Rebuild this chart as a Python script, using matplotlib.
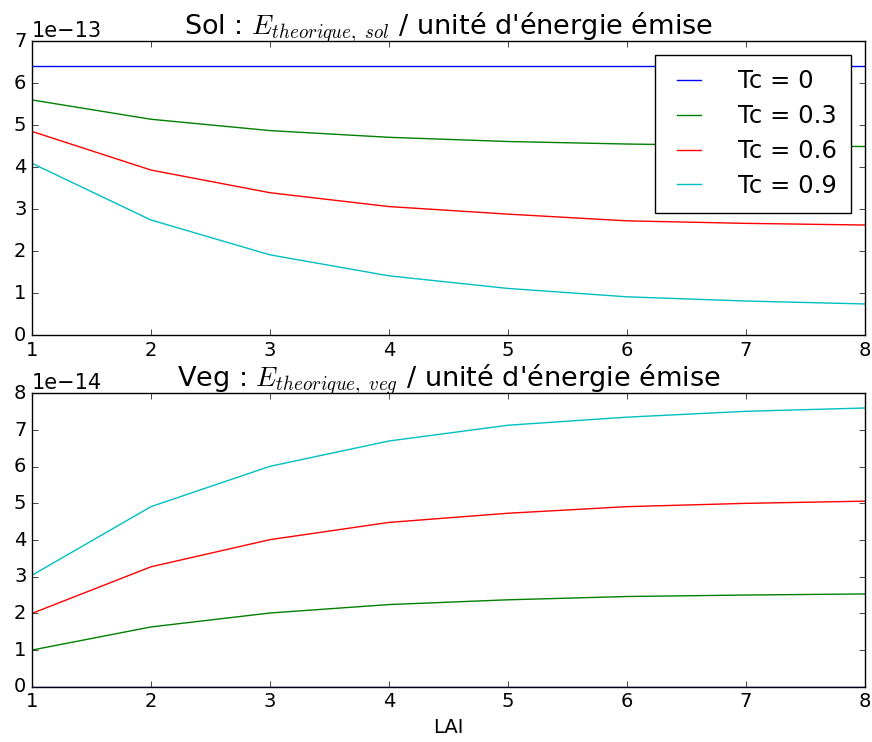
import numpy as np
import matplotlib
matplotlib.use('Agg')
import matplotlib.pyplot as plt

plt.style.use('classic')
plt.rcParams['mathtext.fontset'] = 'cm'
plt.rcParams['font.family'] = 'DejaVu Sans'

# data
lai = [1, 2, 3, 4, 5, 6, 7, 8]
tc_values = [0, 0.3, 0.6, 0.9]
colors = ['b', 'g', 'r', 'c']

# Sol (x 1e-13)
sol_tc0 = [6.40, 6.40, 6.40, 6.40, 6.40, 6.40, 6.40, 6.40]
sol_tc3 = [5.60, 5.14, 4.87, 4.71, 4.61, 4.55, 4.51, 4.49]
sol_tc6 = [4.85, 3.93, 3.39, 3.06, 2.88, 2.72, 2.66, 2.62]
sol_tc9 = [4.09, 2.74, 1.91, 1.41, 1.11, 0.91, 0.81, 0.74]

# Veg (x 1e-14)
veg_tc0 = [0, 0, 0, 0, 0, 0, 0, 0]
veg_tc3 = [1.0, 1.63, 2.01, 2.24, 2.37, 2.46, 2.50, 2.53]
veg_tc6 = [2.0, 3.27, 4.01, 4.48, 4.73, 4.91, 5.00, 5.06]
veg_tc9 = [3.04, 4.91, 6.01, 6.70, 7.13, 7.35, 7.51, 7.60]

sol = [sol_tc0, sol_tc3, sol_tc6, sol_tc9]
veg = [veg_tc0, veg_tc3, veg_tc6, veg_tc9]

fig = plt.figure(figsize=(8.72, 7.42), dpi=100)
fig.patch.set_facecolor('white')

ax1 = fig.add_axes([0.0367, 0.5485, 0.955, 0.396])
ax2 = fig.add_axes([0.0367, 0.0745, 0.955, 0.3954])

for i in range(4):
    ax1.plot(lai, np.array(sol[i]) * 1e-13, color=colors[i], label='Tc = ' + str(tc_values[i]))
    ax2.plot(lai, np.array(veg[i]) * 1e-14, color=colors[i])

ax1.set_ylim(0, 7e-13)
ax2.set_ylim(0, 8e-14)
for ax in (ax1, ax2):
    ax.set_xlim(1, 8)
    ax.tick_params(labelsize=14)
    ax.yaxis.get_offset_text().set_fontsize(15)

ax1.set_title(r"Sol : $E_{theorique,\ sol}$ / unité d'énergie émise", fontsize=19.5, pad=5)
ax2.set_title(r"Veg : $E_{theorique,\ veg}$ / unité d'énergie émise", fontsize=19.5, pad=5)
ax2.set_xlabel('LAI', fontsize=14)

ax1.legend(loc='upper right', fontsize=17.5, borderaxespad=0.55,
           handlelength=1.6, handletextpad=1.2, labelspacing=0.45, borderpad=0.6)

plt.savefig('out.png', dpi=100, facecolor='white')
